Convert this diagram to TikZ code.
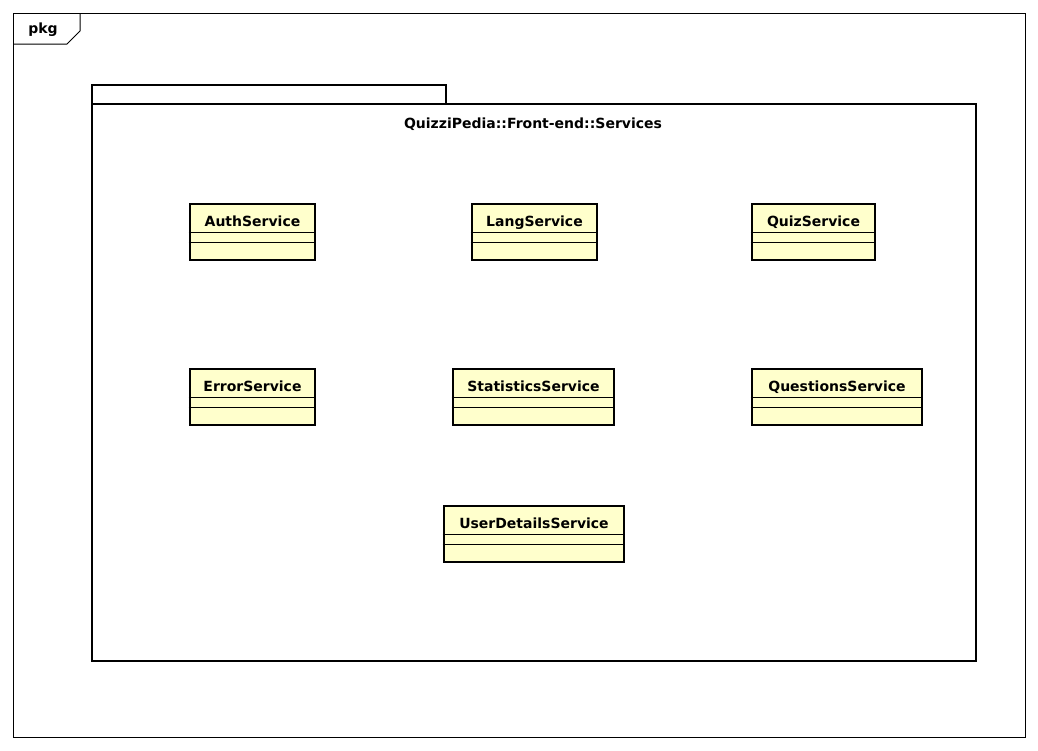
\documentclass[tikz,border=0pt]{standalone}
\usepackage{fontspec}
\setmainfont{DejaVu Sans}
\usepackage{tikz}
\usetikzlibrary{calc}
\definecolor{classyellow}{RGB}{255,255,204}
\tikzset{
    %Define style for class boxes
    service/.style={
           rectangle,
           draw=black, line width=2pt,
           fill=classyellow,
           inner ysep=0pt,
           minimum height=42pt,
           text height=16.5pt,
           text depth=25.5pt,
           font=\bfseries\fontsize{10.5}{12}\selectfont,
           text centered},
    %Define style for compartment lines
    sepline/.style={
           draw=black,
           line width=0.75pt},
    %Define style for the package
    pkgline/.style={
           draw=black,
           line width=2pt},
    %Define style for the frame
    frameline/.style={
           draw=black,
           line width=0.75pt},
    %Define style for labels
    caption/.style={
           font=\bfseries\fontsize{10.5}{12}\selectfont,
           inner sep=0pt}
}
\begin{document}
\begin{tikzpicture}[x=0.75pt,y=-0.75pt]
\useasboundingbox (0,0) rectangle (1038,750);
 %frame
\draw[frameline] (13,13) rectangle (1025,737);
\draw[frameline] (13,44) -- (67,44) -- (80,31) -- (80,13);
\node[caption] (pkg) at (43,30) {pkg};
 %package
\draw[pkgline] (92,104) -- (92,85) -- (446,85) -- (446,104);
\draw[pkgline] (92,104) rectangle (976,661);
\node[caption] (title) at (533,124) {QuizziPedia::Front-end::Services};
 %classes
\foreach \n/\x/\y/\w/\t in {
    auth/252.5/232/125/AuthService,
    lang/534.5/232/125/LangService,
    quiz/813.5/232/123/QuizService,
    error/252.5/397/125/ErrorService,
    stats/533.5/397/161/StatisticsService,
    questions/837/397/170/QuestionsService,
    userdetails/534/534/180/UserDetailsService}{
  \node[service, minimum width=\w*0.75pt] (\n) at (\x,\y) {\t};
  \draw[sepline] ($(\n.north west)+(0,30)$) -- ($(\n.north east)+(0,30)$);
  \draw[sepline] ($(\n.north west)+(0,40)$) -- ($(\n.north east)+(0,40)$);
}
\end{tikzpicture}
\end{document}
